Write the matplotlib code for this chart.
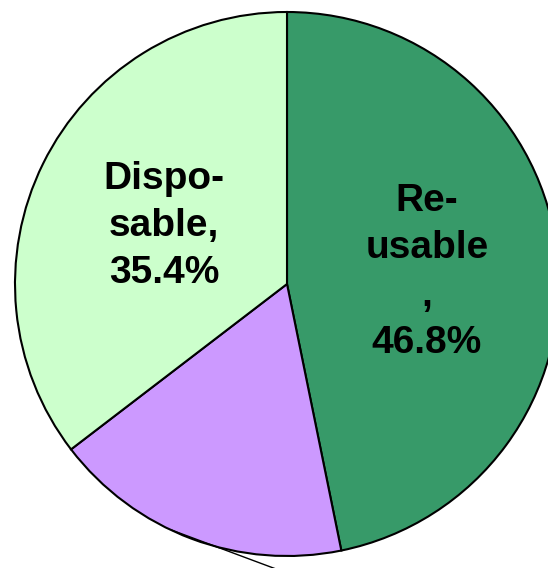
import numpy as np
import matplotlib
matplotlib.use("Agg")
import matplotlib.pyplot as plt

categories = ["Re-usable", "Other", "Disposable"]
shares = [46.8, 17.8, 35.4]
colors = ["#379A69", "#CC99FF", "#CCFFCC"]
label_texts = {"Re-usable": "Re-\nusable\n,\n46.8%", "Disposable": "Dispo-\nsable,\n35.4%"}

fig = plt.figure(figsize=(5.48, 5.68), dpi=100)
ax = fig.add_axes([0, 0, 1, 1])
ax.set_xlim(-287, 261)
ax.set_ylim(-284, 284)
ax.set_aspect("equal")
ax.axis("off")

R = 272
wedges, _ = ax.pie(shares, colors=colors, startangle=90, counterclock=False,
                   radius=R, center=(0, 0), frame=False,
                   wedgeprops=dict(edgecolor="black", linewidth=1.5))
ax.set_xlim(-287, 261)
ax.set_ylim(-284, 284)

font = dict(family=["Liberation Sans", "DejaVu Sans"], fontweight="bold", fontsize=28,
            ha="center", va="center", multialignment="center", linespacing=1.4)
ax.text(-123, 58, label_texts["Disposable"], **font)
ax.text(140, 12, label_texts["Re-usable"], **font)

# leader line for the (off-canvas) purple slice label
w = wedges[1]
ang = np.deg2rad(w.theta1 + (w.theta2 - w.theta1) * 0.42)
start = np.array([R * np.cos(ang), R * np.sin(ang)])
end = start + np.array([110, -41])
ax.annotate("", xy=start, xytext=end, annotation_clip=False,
            arrowprops=dict(arrowstyle="-", lw=1.0, color="black"))

fig.savefig("out.png", dpi=100)
